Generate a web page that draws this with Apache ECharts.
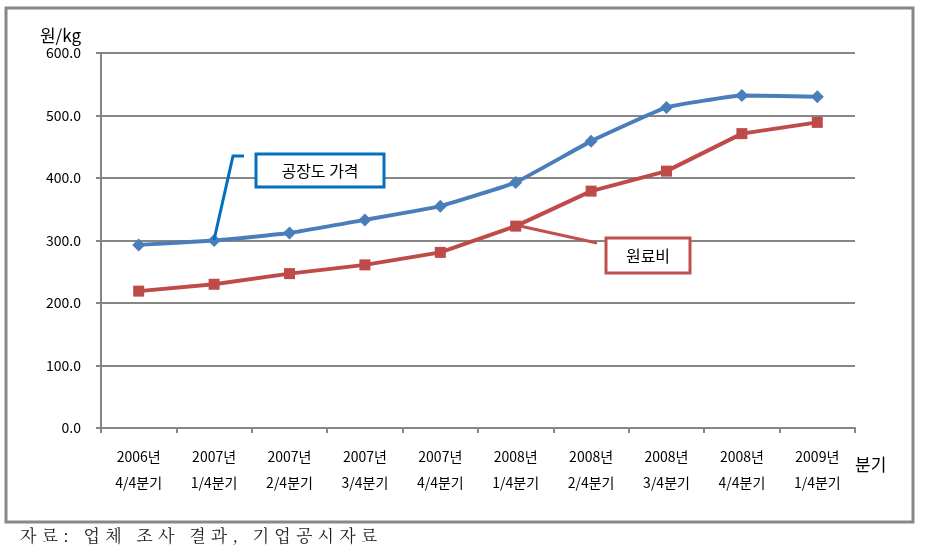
<!DOCTYPE html>
<html><head><meta charset="utf-8">
<script src="https://cdn.jsdelivr.net/npm/echarts@6/dist/echarts.min.js"></script>
<style>html,body{margin:0;padding:0;background:#fff}
#wrap{position:relative;width:925px;height:556px}
#c{width:925px;height:556px}
#src{position:absolute;left:20px;top:522px;font-family:"Noto Serif CJK KR","Noto Sans CJK KR",serif;font-size:17px;letter-spacing:5.2px;color:#222;white-space:pre;line-height:26px}
</style>
</head><body><div id="wrap"><div id="c"></div><div id="src">자료: 업체 조사 결과, 기업공시자료</div></div>
<script>
const categories = ['2006년\n4/4분기','2007년\n1/4분기','2007년\n2/4분기','2007년\n3/4분기','2007년\n4/4분기','2008년\n1/4분기','2008년\n2/4분기','2008년\n3/4분기','2008년\n4/4분기','2009년\n1/4분기'];
const factoryPrice = [293, 300, 312, 333, 355, 393, 459, 513, 532, 530];
const rawMaterial = [219, 230, 247, 261, 281, 323, 379, 411, 471, 489];
const seriesNames = ['공장도 가격', '원료비'];
const yTicks = [0, 100, 200, 300, 400, 500, 600];

const KR = '"Malgun Gothic","Noto Sans CJK KR","Noto Sans",sans-serif';
const chart = echarts.init(document.getElementById('c'));
chart.setOption({
  animation: false,
  grid: {left: 101, right: 70, top: 53, bottom: 128},
  xAxis: {
    type: 'category', data: categories, boundaryGap: true,
    axisLine: {lineStyle: {color: '#868686', width: 2}},
    axisTick: {show: true, length: 5, lineStyle: {color: '#868686', width: 2}},
    axisLabel: {fontFamily: KR, fontSize: 14, color: '#000', margin: 16, lineHeight: 26, interval: 0}
  },
  yAxis: {
    type: 'value', min: yTicks[0], max: yTicks[yTicks.length-1], interval: 100,
    name: '원/kg', nameLocation: 'end', nameGap: 9,
    nameTextStyle: {fontFamily: KR, fontSize: 17, color: '#000', align: 'right', padding: [0, 20, 0, 0]},
    axisLine: {show: true, lineStyle: {color: '#868686', width: 2}},
    axisTick: {show: true, length: 5, lineStyle: {color: '#868686', width: 2}},
    axisLabel: {fontFamily: KR, fontSize: 14, color: '#000', margin: 20, formatter: v => v.toFixed(1)},
    splitLine: {lineStyle: {color: '#868686', width: 2}}
  },
  series: [
    {name: seriesNames[0], type: 'line', data: factoryPrice, symbol: 'diamond', symbolSize: 13, smooth: 0.1,
     lineStyle: {color: '#4A7EBB', width: 4}, itemStyle: {color: '#4A7EBB'}, z: 3},
    {name: seriesNames[1], type: 'line', data: rawMaterial, symbol: 'rect', symbolSize: 11,
     lineStyle: {color: '#BE4B48', width: 4}, itemStyle: {color: '#BE4B48'}, z: 2}
  ],
  graphic: [
    {type: 'rect', shape: {x: 6, y: 8, width: 907, height: 514}, style: {fill: 'none', stroke: '#888', lineWidth: 3}, silent: true},
    {type: 'text', x: 855, y: 465, style: {text: '분기', fontFamily: KR, fontSize: 17, fill: '#000', align: 'left', verticalAlign: 'middle'}},
    {type: 'polyline', shape: {points: [[214, 240], [233, 156], [244, 156]]}, style: {fill: 'none', stroke: '#0070C0', lineWidth: 3}, z: 10},
    {type: 'rect', shape: {x: 256, y: 154, width: 128, height: 33}, style: {fill: '#fff', stroke: '#0070C0', lineWidth: 3}, z: 10},
    {type: 'text', x: 320, y: 171, style: {text: seriesNames[0], fontFamily: KR, fontSize: 16, fill: '#000', align: 'center', verticalAlign: 'middle'}, z: 11},
    {type: 'polyline', shape: {points: [[520, 226], [597, 243]]}, style: {fill: 'none', stroke: '#C0504D', lineWidth: 3}, z: 10},
    {type: 'rect', shape: {x: 606, y: 238, width: 84, height: 35}, style: {fill: '#fff', stroke: '#C0504D', lineWidth: 3}, z: 10},
    {type: 'text', x: 648, y: 256, style: {text: seriesNames[1], fontFamily: KR, fontSize: 16, fill: '#000', align: 'center', verticalAlign: 'middle'}, z: 11}
  ]
});
</script></body></html>
